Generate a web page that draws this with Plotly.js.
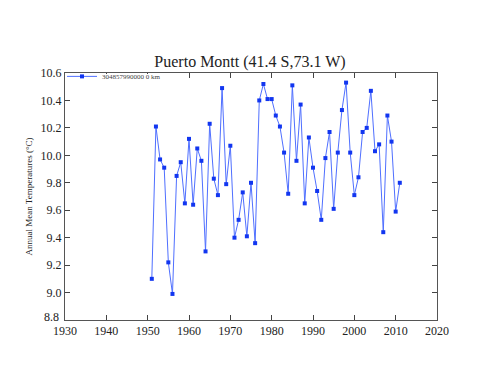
<!DOCTYPE html>
<html>
<head>
<meta charset="utf-8">
<script src="https://cdn.plot.ly/plotly-3.0.1.min.js"></script>
<style>html,body{margin:0;padding:0;background:#fff}#chart{width:500px;height:386px}</style>
</head>
<body>
<div id="chart"></div>
<script>
const years = [1951,1952,1953,1954,1955,1956,1957,1958,1959,1960,1961,1962,1963,1964,1965,1966,1967,1968,1969,1970,1971,1972,1973,1974,1975,1976,1977,1978,1979,1980,1981,1982,1983,1984,1985,1986,1987,1988,1989,1990,1991,1992,1993,1994,1995,1996,1997,1998,1999,2000,2001,2002,2003,2004,2005,2006,2007,2008,2009,2010,2011];
const temps = [9.10,10.21,9.97,9.91,9.22,8.99,9.85,9.95,9.65,10.12,9.64,10.05,9.96,9.30,10.23,9.83,9.71,10.49,9.79,10.07,9.40,9.53,9.73,9.41,9.80,9.36,10.40,10.52,10.41,10.41,10.29,10.21,10.02,9.72,10.51,9.96,10.37,9.65,10.13,9.91,9.74,9.53,9.98,10.17,9.61,10.02,10.33,10.53,10.02,9.71,9.84,10.17,10.20,10.47,10.03,10.08,9.44,10.29,10.10,9.59,9.80];
const seriesName = "304857990000 0 km";
const chartTitle = "Puerto Montt (41.4 S,73.1 W)";
const yTitle = "Annual Mean Temperatures (°C)";
const xTicks = [1930,1940,1950,1960,1970,1980,1990,2000,2010,2020];
const yTicks = [8.8,9.0,9.2,9.4,9.6,9.8,10.0,10.2,10.4,10.6];

const serif = "Liberation Serif, Times New Roman, serif";
const yMin = yTicks[0], xMin = xTicks[0];
Plotly.newPlot('chart', [{
  x: years, y: temps, name: seriesName, type: 'scatter', mode: 'lines+markers',
  line: {color: '#4f6fff', width: 1},
  marker: {color: '#1236f0', size: 4, symbol: 'square'}
}], {
  width: 500, height: 386,
  margin: {l: 65, r: 63, t: 73, b: 66},
  paper_bgcolor: '#fff', plot_bgcolor: '#fff',
  font: {family: serif, color: '#222'},
  title: {text: chartTitle, font: {family: serif, size: 16, color: '#222'}, x: 0.5, xanchor: 'center', y: 1, yref: 'paper', yanchor: 'bottom', pad: {b: 6}},
  showlegend: true,
  legend: {x: -0.008, y: 1.045, xanchor: 'left', yanchor: 'top', bgcolor: 'rgba(0,0,0,0)', borderwidth: 0, font: {family: serif, size: 7, color: '#444'}, itemwidth: 30, tracegroupgap: 0},
  shapes: [{type: 'rect', xref: 'paper', yref: 'paper', x0: 0.004, x1: 0.28, y0: 0.94, y1: 0.996, fillcolor: '#fff', line: {width: 0}, layer: 'above'}],
  xaxis: {range: [1930, 2020], tickvals: xTicks, ticktext: xTicks.map(String), ticks: 'inside', ticklen: 5, tickcolor: '#444', showline: true, linecolor: '#555', linewidth: 1, mirror: 'ticks', showgrid: false, zeroline: false, tickfont: {family: serif, size: 12, color: '#222'}},
  yaxis: {range: [8.8, 10.6], tickvals: yTicks, ticktext: yTicks.map(v => v === yMin ? '' : v.toFixed(1)), ticks: 'inside', ticklen: 5, tickcolor: '#444', showline: true, linecolor: '#555', linewidth: 1, mirror: 'ticks', showgrid: false, zeroline: false, tickfont: {family: serif, size: 12, color: '#222'},
    title: {text: yTitle, font: {family: serif, size: 9, color: '#222'}, standoff: 6}},
  annotations: [{x: xMin, y: yMin, xref: 'x', yref: 'y', text: yMin.toFixed(1), showarrow: false, xanchor: 'right', yanchor: 'middle', xshift: -4, yshift: 3, font: {family: serif, size: 12, color: '#222'}}]
}, {staticPlot: true});
</script>
</body>
</html>
